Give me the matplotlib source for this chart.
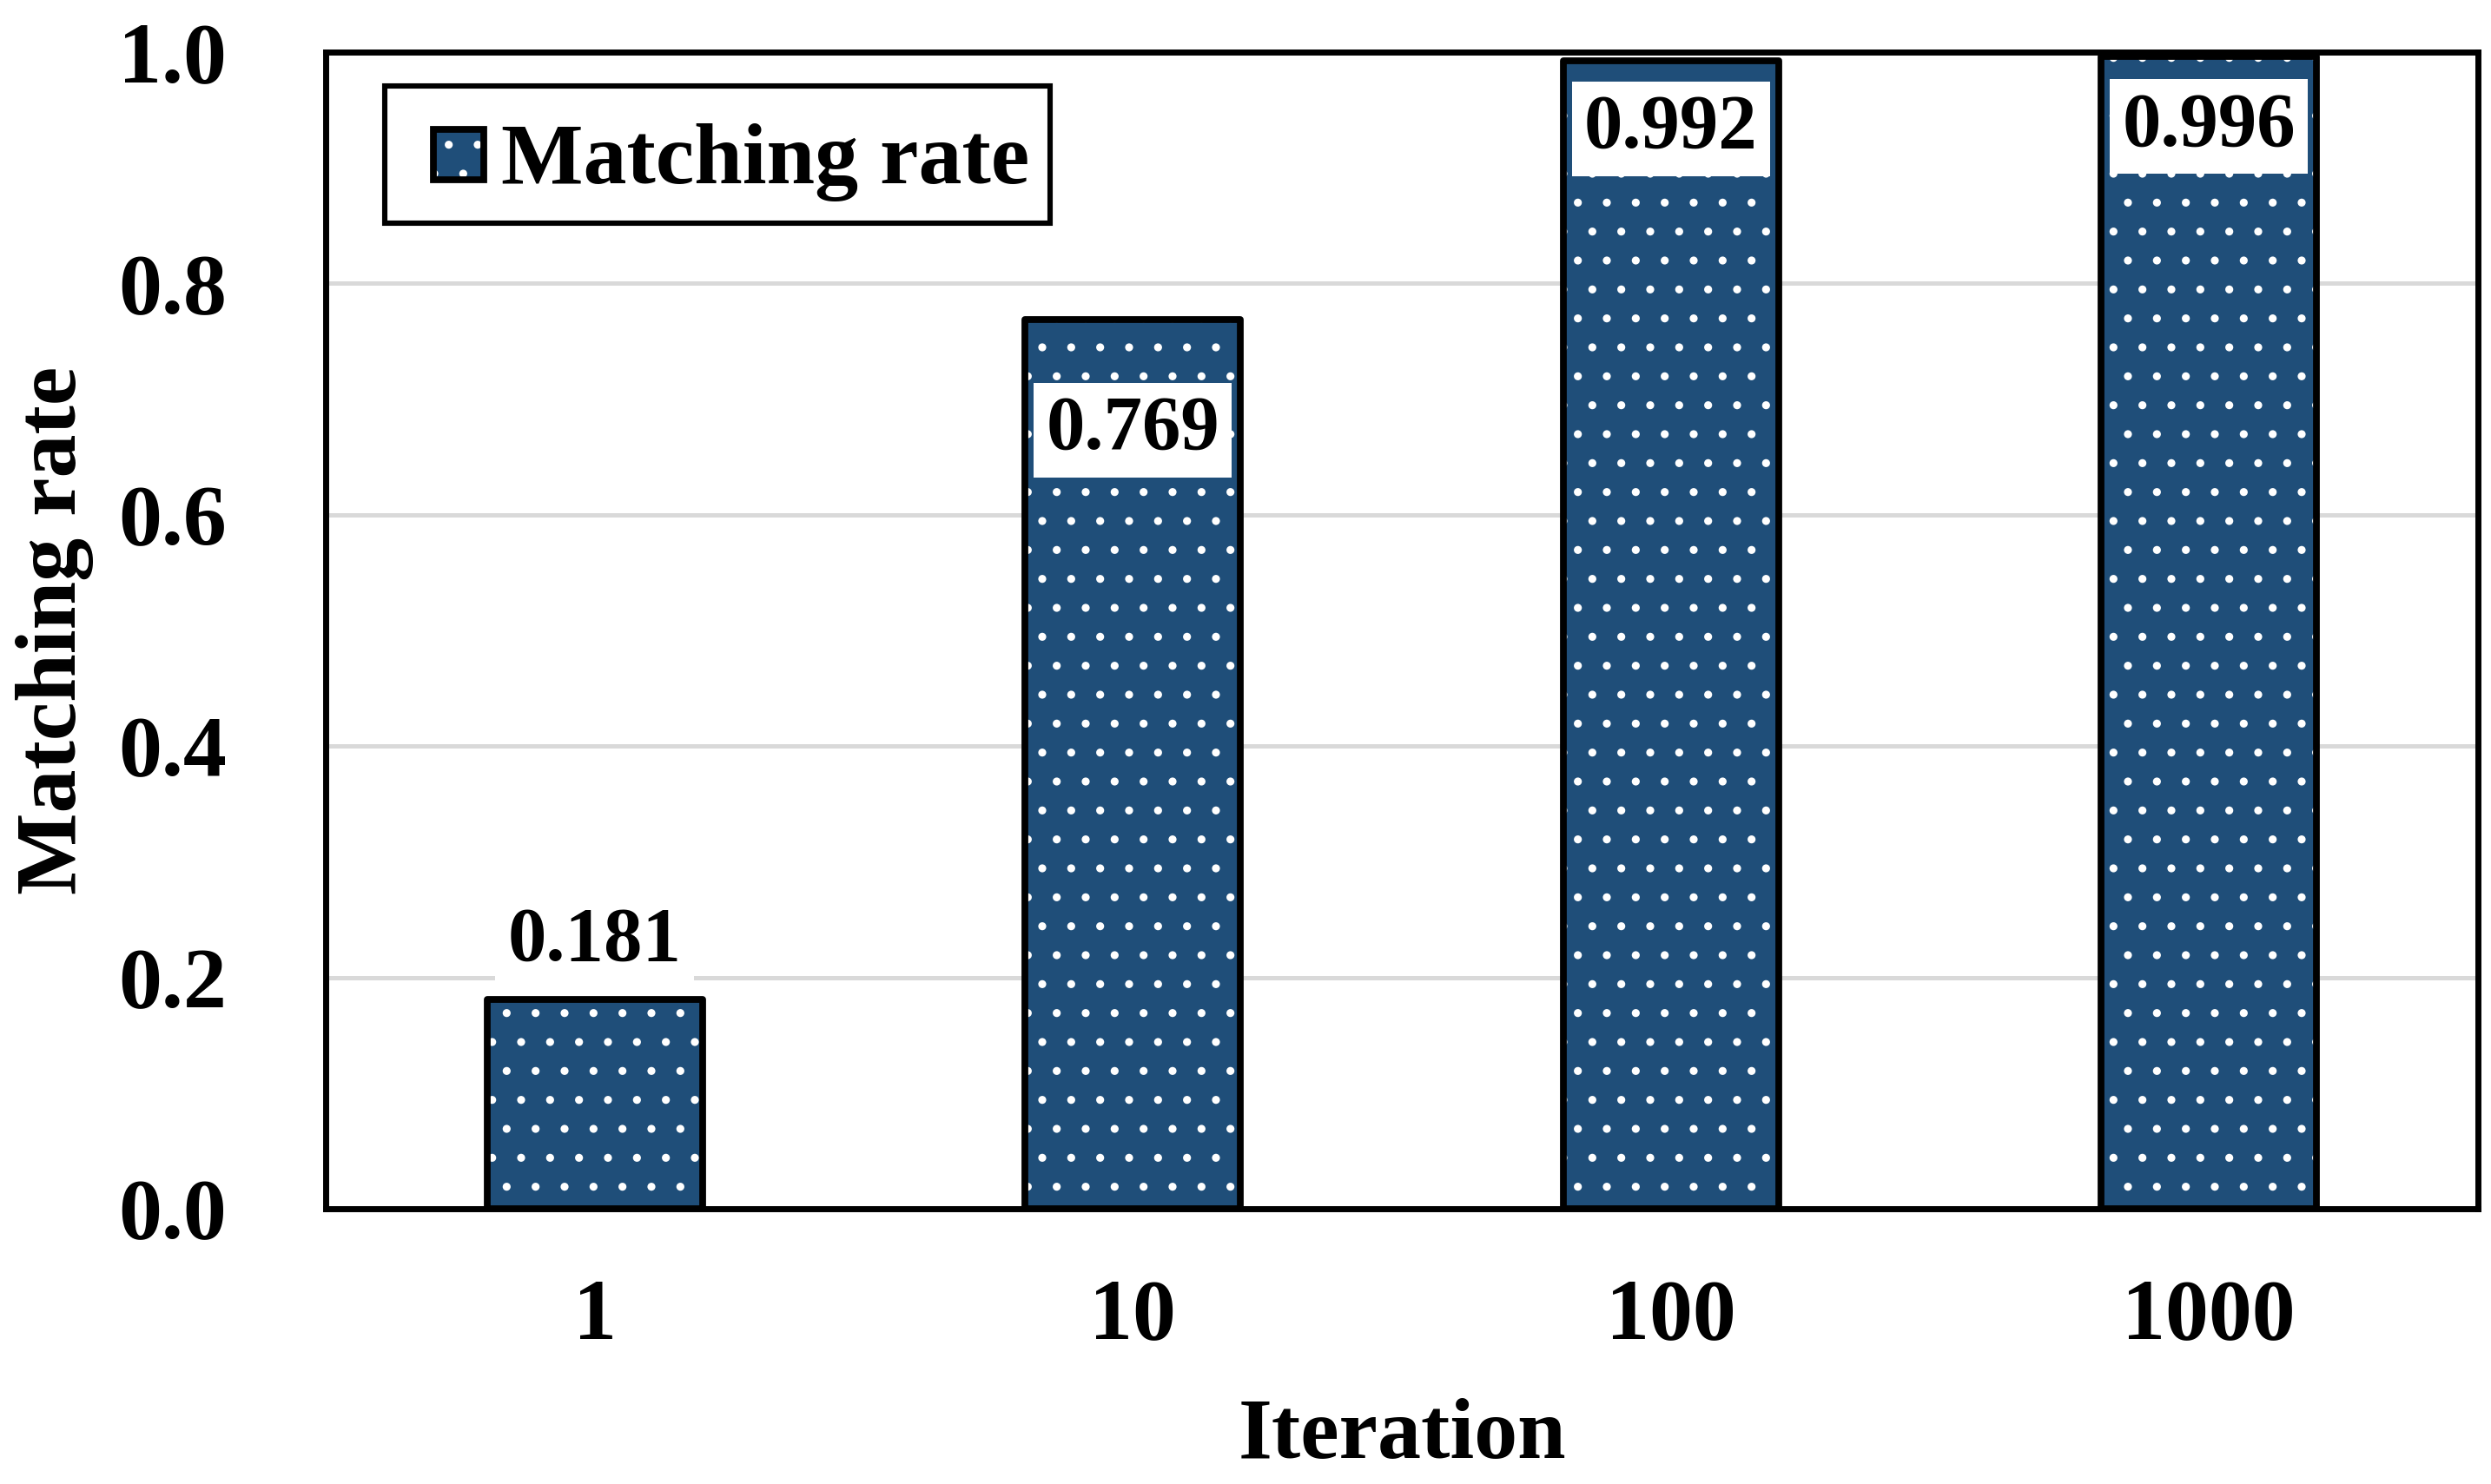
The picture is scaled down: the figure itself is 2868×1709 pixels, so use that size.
import matplotlib
matplotlib.use("Agg")
import matplotlib.pyplot as plt
from matplotlib.patches import Patch, Rectangle
from matplotlib.legend_handler import HandlerPatch

# Data
iterations = ["1", "10", "100", "1000"]
matching_rate = [0.181, 0.769, 0.992, 0.996]
y_ticks = [0.0, 0.2, 0.4, 0.6, 0.8, 1.0]

bar_color = "#1F4E79"
plt.rcParams["font.family"] = ["Liberation Serif", "DejaVu Serif"]
plt.rcParams["font.weight"] = "bold"
plt.rcParams["hatch.linewidth"] = 0.9

fig = plt.figure(figsize=(14.34, 8.545), dpi=200)
ax = fig.add_axes([0.1307, 0.1855, 0.8641, 0.7795])

x = range(len(iterations))
# dotted fill (white hatch) and black outline drawn separately
fill = ax.bar(x, matching_rate, width=0.40, color=bar_color, edgecolor="white",
              hatch=".", linewidth=0, zorder=3)
outline = ax.bar(x, matching_rate, width=0.40, fill=False, edgecolor="black",
                 linewidth=2.8, joinstyle="round", zorder=4)

# value labels (offset in points from bar top)
label_offsets = [24, -46, -28, -29]
for xi, v, off in zip(x, matching_rate, label_offsets):
    ax.annotate(f"{v:.3f}", xy=(xi, v), xytext=(0, off), textcoords="offset points",
                ha="center", va="center", fontsize=32, fontweight="bold", zorder=5,
                bbox=dict(boxstyle="square,pad=0.16", facecolor="white", edgecolor="none"))

ax.set_xlim(-0.5, len(iterations) - 0.5)
ax.set_ylim(0, 1.0)
ax.set_yticks(y_ticks)
ax.set_yticklabels([f"{t:.1f}" for t in y_ticks])
ax.set_xticks(list(x))
ax.set_xticklabels(iterations)
ax.tick_params(axis="both", length=0, labelsize=36)
ax.tick_params(axis="x", pad=29)
ax.tick_params(axis="y", pad=41)

ax.yaxis.grid(True, color="#D9D9D9", linewidth=1.8, zorder=0)
ax.set_axisbelow(True)
for s in ax.spines.values():
    s.set_linewidth(2.5)
    s.set_color("black")
    s.set_zorder(6)

ax.set_xlabel("Iteration", fontsize=36, fontweight="bold", labelpad=17)
ax.set_ylabel("Matching rate", fontsize=36, fontweight="bold", labelpad=10)


# legend: small square swatch pushed to the right side of the handle box
def square_patch(legend, orig_handle, xdescent, ydescent, width, height, fontsize):
    s = 0.58 * fontsize
    return Rectangle((-xdescent + width - s, -ydescent + (height - s) / 2), s, s)


h_fill = Patch(facecolor=bar_color, edgecolor="white", hatch=".", linewidth=0)
h_edge = Patch(facecolor="none", edgecolor="black", linewidth=2.8, joinstyle="round")
handler = HandlerPatch(patch_func=square_patch)
leg = ax.legend([(h_fill, h_edge)], ["Matching rate"], loc="upper left",
                bbox_to_anchor=(0.0274, 0.9707), borderaxespad=0, fontsize=36,
                frameon=True, fancybox=False, framealpha=1, handlelength=0.9,
                handleheight=1.32, handletextpad=0.2, borderpad=0.24,
                handler_map={h_fill: handler, h_edge: handler})
leg.get_frame().set_edgecolor("black")
leg.get_frame().set_linewidth(2.2)
leg.set_zorder(7)

plt.savefig("out.png", dpi=200)
